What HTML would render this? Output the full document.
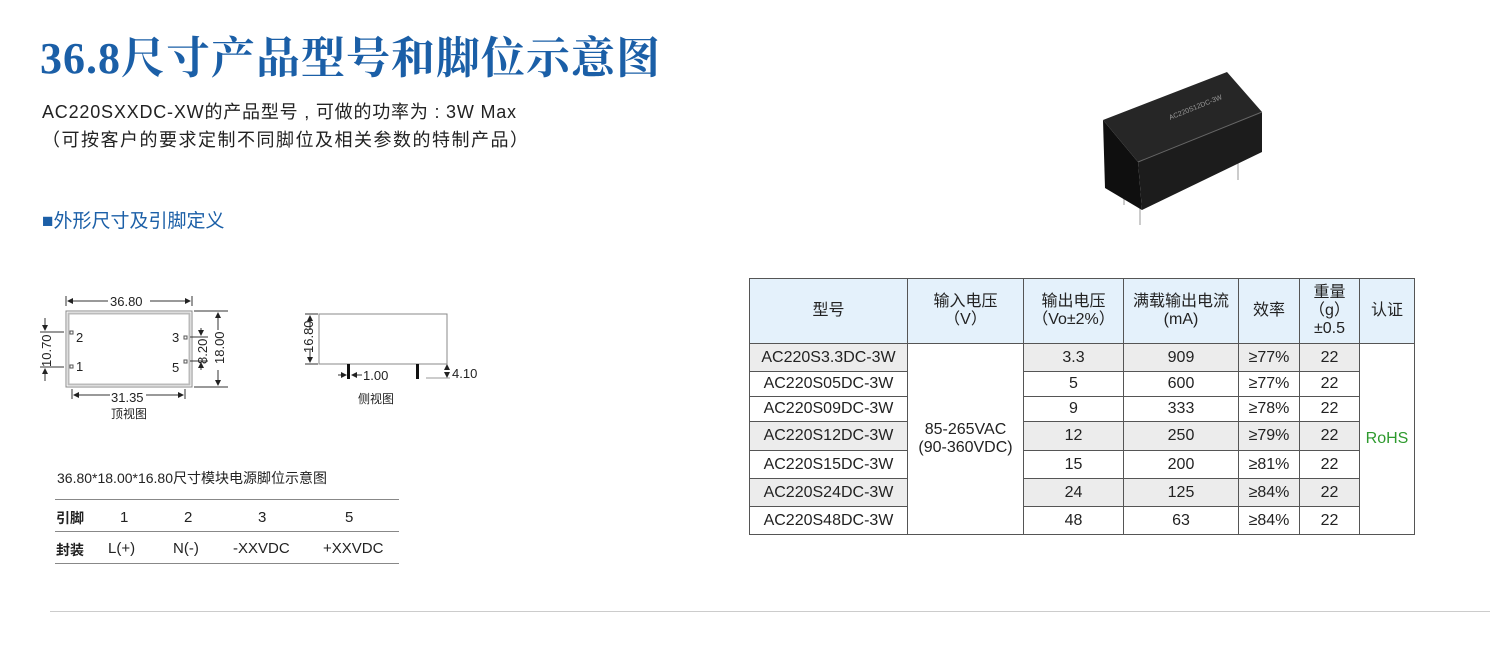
<!DOCTYPE html>
<html><head><meta charset="utf-8"><style>
body{margin:0;width:1490px;height:650px;background:#fff;position:relative;overflow:hidden;font-family:"Liberation Sans","Noto Sans CJK SC",sans-serif;color:#222}
.a{position:absolute;white-space:nowrap}
table{border-collapse:collapse;position:absolute;left:749px;top:278px;font-size:16px;font-family:"Liberation Sans","Noto Sans CJK SC",sans-serif}
td{border:1px solid #555;text-align:center;padding:0;line-height:18px}
tr.h td{background:#e4f1fb;height:64px}
.g{background:#ececec}
</style></head><body>
<div class="a" style="left:40px;top:22px;font-family:'Liberation Serif','Noto Serif CJK SC',serif;font-weight:bold;font-size:44px;color:#1b5fa7;letter-spacing:1px">36.8尺寸产品型号和脚位示意图</div>
<div class="a" style="left:42px;top:98px;font-size:18px;letter-spacing:0.8px">AC220SXXDC-XW的产品型号 , 可做的功率为 : 3W Max</div>
<div class="a" style="left:42px;top:126px;font-size:18px;letter-spacing:1.5px">（可按客户的要求定制不同脚位及相关参数的特制产品）</div>
<div class="a" style="left:42px;top:206px;font-size:19px;color:#1b5fa7">■外形尺寸及引脚定义</div>

<svg class="a" style="left:0;top:0" width="500" height="430" font-family="Liberation Sans,sans-serif" font-size="13" fill="#222">
<defs><marker id="ar" markerWidth="6" markerHeight="6" refX="5" refY="3" orient="auto"><path d="M0,0L6,3L0,6z" fill="#222"/></marker></defs>
<g stroke="#999" fill="none"><rect x="66" y="311" width="126" height="76" stroke="#888"/><rect x="68.5" y="313.5" width="121" height="71" stroke="#bbb" stroke-width="2"/></g>
<g stroke="#333" stroke-width="1" fill="none">
<line x1="66" y1="296" x2="66" y2="306"/><line x1="192" y1="296" x2="192" y2="306"/>
<line x1="150" y1="301" x2="190" y2="301" marker-end="url(#ar)"/>
<line x1="108" y1="301" x2="68" y2="301" marker-end="url(#ar)"/>
<line x1="40" y1="332" x2="64" y2="332"/><line x1="40" y1="367" x2="64" y2="367"/>
<line x1="45" y1="318" x2="45" y2="330" marker-end="url(#ar)"/><line x1="45" y1="381" x2="45" y2="369" marker-end="url(#ar)"/>
<line x1="194" y1="311" x2="228" y2="311"/><line x1="194" y1="387" x2="228" y2="387"/>
<line x1="218" y1="330" x2="218" y2="313" marker-end="url(#ar)"/><line x1="218" y1="370" x2="218" y2="385" marker-end="url(#ar)"/>
<line x1="190" y1="337" x2="208" y2="337"/><line x1="190" y1="361" x2="208" y2="361"/>
<line x1="201" y1="328" x2="201" y2="335" marker-end="url(#ar)"/><line x1="201" y1="370" x2="201" y2="363" marker-end="url(#ar)"/>
<line x1="72" y1="389" x2="72" y2="399"/><line x1="185" y1="389" x2="185" y2="399"/>
<line x1="110" y1="395" x2="74" y2="395" marker-end="url(#ar)"/><line x1="146" y1="395" x2="183" y2="395" marker-end="url(#ar)"/>
</g>
<g stroke="#555" fill="#fff"><rect x="70" y="331" width="3" height="3"/><rect x="70" y="365" width="3" height="3"/><rect x="184" y="336" width="3" height="3"/><rect x="184" y="360" width="3" height="3"/></g>
<text x="110" y="306">36.80</text>
<text x="76" y="342">2</text><text x="76" y="371">1</text><text x="172" y="342">3</text><text x="172" y="372">5</text>
<text x="111" y="402">31.35</text>
<text x="111" y="418" font-family="Noto Sans CJK SC,sans-serif" font-size="12">顶视图</text>
<text transform="translate(51,367) rotate(-90)">10.70</text>
<text transform="translate(207,364) rotate(-90)">8.20</text>
<text transform="translate(224,364) rotate(-90)">18.00</text>
<rect x="319" y="314" width="128" height="50" fill="none" stroke="#888"/>
<g stroke="#333" fill="none">
<line x1="305" y1="314" x2="318" y2="314"/><line x1="305" y1="364" x2="318" y2="364"/>
<line x1="310" y1="330" x2="310" y2="316" marker-end="url(#ar)"/><line x1="310" y1="350" x2="310" y2="362" marker-end="url(#ar)"/>
<line x1="338" y1="375" x2="346" y2="375" marker-end="url(#ar)"/><line x1="362" y1="375" x2="352" y2="375" marker-end="url(#ar)"/>
<line x1="426" y1="378" x2="450" y2="378" stroke="#999"/>
<line x1="447" y1="370" x2="447" y2="365" marker-end="url(#ar)"/><line x1="447" y1="372" x2="447" y2="377" marker-end="url(#ar)"/>
</g>
<rect x="347" y="364" width="3" height="15" fill="#111"/><rect x="416" y="364" width="3" height="15" fill="#111"/>
<text x="363" y="380">1.00</text><text x="452" y="378">4.10</text>
<text transform="translate(313,353) rotate(-90)">16.80</text>
<text x="358" y="403" font-family="Noto Sans CJK SC,sans-serif" font-size="12">侧视图</text>
</svg>

<div class="a" style="left:57px;top:468px;font-size:14px">36.80*18.00*16.80尺寸模块电源脚位示意图</div>
<div class="a" style="left:55px;top:499px;width:344px;border-top:1px solid #888"></div>
<div class="a" style="left:55px;top:531px;width:344px;border-top:1px solid #888"></div>
<div class="a" style="left:55px;top:563px;width:344px;border-top:1px solid #888"></div>
<div class="a" style="left:56px;top:508px;font-size:14px;font-family:'Noto Sans CJK SC',sans-serif;font-weight:bold">引脚</div>
<div class="a" style="left:56px;top:540px;font-size:14px;font-family:'Noto Sans CJK SC',sans-serif;font-weight:bold">封装</div>
<div class="a" style="left:120px;top:509px;font-size:15px">1</div>
<div class="a" style="left:184px;top:509px;font-size:15px">2</div>
<div class="a" style="left:258px;top:509px;font-size:15px">3</div>
<div class="a" style="left:345px;top:509px;font-size:15px">5</div>
<div class="a" style="left:108px;top:540px;font-size:15px">L(+)</div>
<div class="a" style="left:173px;top:540px;font-size:15px">N(-)</div>
<div class="a" style="left:233px;top:540px;font-size:15px">-XXVDC</div>
<div class="a" style="left:323px;top:540px;font-size:15px">+XXVDC</div>

<svg class="a" style="left:0;top:0" width="1490" height="250">
<g stroke="#bbb" stroke-width="1.5"><line x1="1124" y1="185" x2="1124" y2="205"/><line x1="1140" y1="195" x2="1140" y2="225"/><line x1="1238" y1="155" x2="1238" y2="180"/></g>
<polygon points="1103,120 1138,162 1142,210 1105,188" fill="#0f0f0f"/>
<polygon points="1138,162 1262,112 1262,152 1142,210" fill="#1c1c1c"/>
<polygon points="1103,120 1227,72 1262,112 1138,162" fill="#262626"/>
<line x1="1138" y1="162" x2="1262" y2="112" stroke="#666"/>
<text x="1170" y="120" fill="#999" font-size="7" font-family="Liberation Sans,sans-serif" transform="rotate(-22 1170 120)">AC220S12DC-3W</text>
</svg>

<table>
<tr class="h"><td style="width:157px">型号</td><td style="width:115px">输入电压<br>（V）</td><td style="width:99px">输出电压<br>（Vo±2%）</td><td style="width:114px">满载输出电流<br>(mA)</td><td style="width:60px">效率</td><td style="width:59px">重量<br>（g）<br>±0.5</td><td style="width:54px">认证</td></tr>
<tr style="height:28px"><td class="g">AC220S3.3DC-3W</td><td rowspan="7">85-265VAC<br>(90-360VDC)</td><td class="g">3.3</td><td class="g">909</td><td class="g">≥77%</td><td class="g">22</td><td rowspan="7" style="color:#2e9a2e">RoHS</td></tr>
<tr style="height:25px"><td>AC220S05DC-3W</td><td>5</td><td>600</td><td>≥77%</td><td>22</td></tr>
<tr style="height:25px"><td>AC220S09DC-3W</td><td>9</td><td>333</td><td>≥78%</td><td>22</td></tr>
<tr style="height:29px"><td class="g">AC220S12DC-3W</td><td class="g">12</td><td class="g">250</td><td class="g">≥79%</td><td class="g">22</td></tr>
<tr style="height:28px"><td>AC220S15DC-3W</td><td>15</td><td>200</td><td>≥81%</td><td>22</td></tr>
<tr style="height:28px"><td class="g">AC220S24DC-3W</td><td class="g">24</td><td class="g">125</td><td class="g">≥84%</td><td class="g">22</td></tr>
<tr style="height:28px"><td>AC220S48DC-3W</td><td>48</td><td>63</td><td>≥84%</td><td>22</td></tr>
</table>

<div class="a" style="left:50px;top:611px;width:1440px;border-top:1px solid #ccc"></div>
</body></html>
